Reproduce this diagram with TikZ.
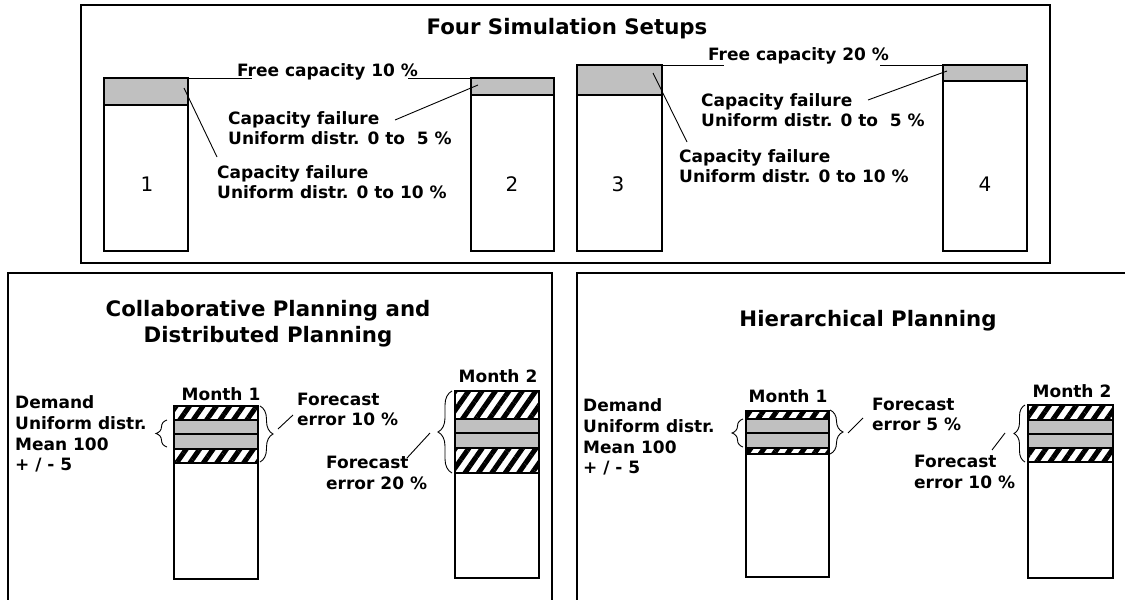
\documentclass[tikz,border=0pt]{standalone}
\usepackage{fontspec}
\setmainfont{DejaVu Sans}
\usetikzlibrary{patterns.meta,decorations.pathreplacing}
\definecolor{capgray}{RGB}{192,192,192}
\tikzset{
  frame/.style={draw, line width=1.3pt},
  barbox/.style={draw, line width=1.2pt},
  capfill/.style={fill=capgray, draw, line width=1.2pt},
  hatchfill/.style={pattern={Lines[angle=55,distance=11pt,line width=5pt]}, draw, line width=1.2pt},
  lbl/.style={font=\bfseries\fontsize{17}{20.7}\selectfont, align=left, inner sep=0pt},
  ttl/.style={font=\bfseries\fontsize{21.3}{26}\selectfont, align=center, inner sep=0pt},
  num/.style={font=\fontsize{20}{24}\selectfont, inner sep=0pt},
  leader/.style={line width=0.9pt},
  brc/.style={line width=0.9pt, decorate, decoration={brace, amplitude=#1}},
}
\begin{document}
\begin{tikzpicture}[x=1pt, y=-1pt]
\useasboundingbox (0,0) rectangle (1125,600);
\clip (0,0) rectangle (1125,600);
\fill[white] (0,0) rectangle (1125,600);

% ---------- top box ----------
\draw[frame] (81,5) rectangle (1050,263);
\node[ttl, anchor=north] (title) at (567,18) {Four Simulation Setups};

% bars
\draw[barbox] (104,78) rectangle (188,251);
\draw[capfill] (104,78) rectangle (188,105);
\draw[barbox] (471,78) rectangle (554,251);
\draw[capfill] (471,78) rectangle (554,95);
\draw[barbox] (577,65) rectangle (662,251);
\draw[capfill] (577,65) rectangle (662,95);
\draw[barbox] (943,65) rectangle (1027,251);
\draw[capfill] (943,65) rectangle (1027,81);

\node[num] (n1) at (147,184) {1};
\node[num] (n2) at (512,184) {2};
\node[num] (n3) at (618,184) {3};
\node[num] (n4) at (985,184) {4};

% free capacity
\node[lbl, anchor=base west] (fc10) at (237,76) {Free capacity 10 \%};
\node[lbl, anchor=base west] (fc20) at (708,60) {Free capacity 20 \%};
\coordinate (b1ne) at (188,78);
\coordinate (fc10a) at (252,78);
\coordinate (fc10b) at (408,78);
\coordinate (b2nw) at (471,78);
\coordinate (b3ne) at (662,65);
\coordinate (fc20a) at (724,65);
\coordinate (fc20b) at (880,65);
\coordinate (b4nw) at (943,65);
\draw[leader] (b1ne) -- (fc10a);
\draw[leader] (fc10b) -- (b2nw);
\draw[leader] (b3ne) -- (fc20a);
\draw[leader] (fc20b) -- (b4nw);

% capacity failure labels
\node[lbl, anchor=north west] (cf12a) at (228,111) {Capacity failure\\Uniform distr. 0 to\ \ 5 \%};
\node[lbl, anchor=north west] (cf12b) at (217,165) {Capacity failure\\Uniform distr. 0 to 10 \%};
\node[lbl, anchor=north west] (cf34a) at (701,93) {Capacity failure\\Uniform distr. 0 to\ \ 5 \%};
\node[lbl, anchor=north west] (cf34b) at (679,149) {Capacity failure\\Uniform distr. 0 to 10 \%};
\coordinate (l1a) at (217,157); \coordinate (l1b) at (184,88);
\coordinate (l2a) at (395,120); \coordinate (l2b) at (478,85);
\coordinate (l3a) at (687,142); \coordinate (l3b) at (653,73);
\coordinate (l4a) at (868,100); \coordinate (l4b) at (947,71);
\draw[leader] (l1a) -- (l1b);
\draw[leader] (l2a) -- (l2b);
\draw[leader] (l3a) -- (l3b);
\draw[leader] (l4a) -- (l4b);

% ---------- bottom left box ----------
\draw[frame] (8,273) rectangle (552,640);
\node[ttl, anchor=north] (tl) at (268,300) {Collaborative Planning and\\Distributed Planning};

\node[lbl, anchor=base] (lm1) at (221,400) {Month 1};
\draw[barbox] (174,406) rectangle (258,579);
\draw[hatchfill] (174,406) rectangle (258,420);
\draw[capfill] (174,420) rectangle (258,434);
\draw[capfill] (174,434) rectangle (258,449);
\draw[hatchfill] (174,449) rectangle (258,463);

\node[lbl, anchor=base] (lm2) at (498,382) {Month 2};
\draw[barbox] (455,391) rectangle (539,578);
\draw[hatchfill] (455,391) rectangle (539,419);
\draw[capfill] (455,419) rectangle (539,433);
\draw[capfill] (455,433) rectangle (539,448);
\draw[hatchfill] (455,448) rectangle (539,473);

\node[lbl, anchor=north west] (ldem) at (15,395.5) {Demand\\Uniform distr.\\Mean 100\\+ / - 5};
\node[lbl, anchor=north west] (lfe10) at (297,392.5) {Forecast\\error 10 \%};
\node[lbl, anchor=north west] (lfe20) at (326,456) {Forecast\\error 20 \%};

\draw[brc=11pt] (167,447) -- (167,420);
\draw[brc=13pt] (260,406) -- (260,462);
\draw[brc=14pt] (452,473) -- (452,391);
\coordinate (ll1a) at (278,429); \coordinate (ll1b) at (293,415);
\coordinate (ll2a) at (430,433); \coordinate (ll2b) at (407,458);
\draw[leader] (ll1a) -- (ll1b);
\draw[leader] (ll2a) -- (ll2b);

% ---------- bottom right box ----------
\draw[frame] (577,273) rectangle (1140,640);
\node[ttl, anchor=north] (tr) at (868,310) {Hierarchical Planning};

\node[lbl, anchor=base] (rm1) at (788,402) {Month 1};
\draw[barbox] (746,411) rectangle (829,577);
\draw[hatchfill] (746,411) rectangle (829,419);
\draw[capfill] (746,419) rectangle (829,433);
\draw[capfill] (746,433) rectangle (829,448);
\draw[hatchfill] (746,448) rectangle (829,454);

\node[lbl, anchor=base] (rm2) at (1072,397) {Month 2};
\draw[barbox] (1028,405) rectangle (1113,578);
\draw[hatchfill] (1028,405) rectangle (1113,420);
\draw[capfill] (1028,420) rectangle (1113,434);
\draw[capfill] (1028,434) rectangle (1113,448);
\draw[hatchfill] (1028,448) rectangle (1113,462);

\node[lbl, anchor=north west] (rdem) at (583,398.5) {Demand\\Uniform distr.\\Mean 100\\+ / - 5};
\node[lbl, anchor=north west] (rfe5) at (872,397.5) {Forecast\\error 5 \%};
\node[lbl, anchor=north west] (rfe10) at (914,455) {Forecast\\error 10 \%};

\draw[brc=11pt] (743,447) -- (743,419);
\draw[brc=13pt] (830,410) -- (830,454);
\draw[brc=11pt] (1025,462) -- (1025,405);
\coordinate (rl1a) at (848,433); \coordinate (rl1b) at (863,418);
\coordinate (rl2a) at (1005,433); \coordinate (rl2b) at (992,450);
\draw[leader] (rl1a) -- (rl1b);
\draw[leader] (rl2a) -- (rl2b);
\end{tikzpicture}
\end{document}
